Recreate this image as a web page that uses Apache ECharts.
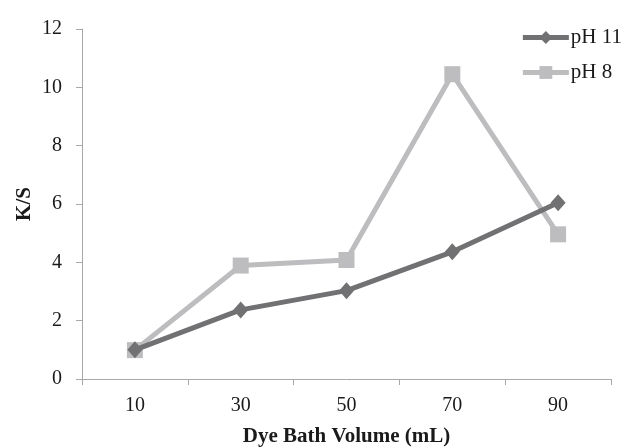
<!DOCTYPE html>
<html><head><meta charset="utf-8">
<script src="https://cdn.jsdelivr.net/npm/echarts@6/dist/echarts.min.js"></script>
<style>html,body{margin:0;padding:0;background:#fff}#c{width:627px;height:448px}</style>
</head><body><div id="c"></div>
<script>
const categories = ['10', '30', '50', '70', '90'];
const ph11 = [1.0, 2.37, 3.03, 4.36, 6.04];
const ph8 = [0.99, 3.89, 4.08, 10.45, 4.96];
const yTicks = {min: 0, max: 12, interval: 2};

const font = 'Liberation Serif';
const chart = echarts.init(document.getElementById('c'));
chart.setOption({
  animation: false,
  backgroundColor: '#fff',
  grid: {left: 82, right: 16, top: 29, bottom: 69, outerBoundsMode: 'none', containLabel: false},
  legend: {
    orient: 'vertical', right: 0, top: 22, itemGap: 14,
    itemWidth: 46, itemHeight: 16,
    lineStyle: {width: 5},
    textStyle: {fontFamily: font, fontSize: 21, color: '#1a1a1a', padding: [0,0,0,-3]},
    data: ['pH 11', 'pH 8']
  },
  xAxis: {
    type: 'category', data: categories, boundaryGap: true,
    name: 'Dye Bath Volume (mL)', nameLocation: 'middle', nameGap: 47,
    nameMoveOverlap: false,
    nameTextStyle: {fontFamily: font, fontSize: 21, fontWeight: 'bold', color: '#1a1a1a'},
    axisLine: {lineStyle: {color: '#a8a8a8', width: 1}},
    axisTick: {show: true, length: 6, lineStyle: {color: '#a8a8a8'}},
    axisLabel: {fontFamily: font, fontSize: 20, color: '#1a1a1a', margin: 17}
  },
  yAxis: {
    type: 'value', min: yTicks.min, max: yTicks.max, interval: yTicks.interval,
    name: 'K/S', nameLocation: 'middle', nameGap: 47, nameRotate: 90,
    nameMoveOverlap: false,
    nameTextStyle: {fontFamily: font, fontSize: 21, fontWeight: 'bold', color: '#1a1a1a'},
    axisLine: {show: true, lineStyle: {color: '#a8a8a8', width: 1}},
    axisTick: {show: true, length: 6, lineStyle: {color: '#a8a8a8'}},
    splitLine: {show: false},
    axisLabel: {fontFamily: font, fontSize: 20, color: '#1a1a1a', margin: 20}
  },
  series: [
    {name: 'pH 8', type: 'line', data: ph8, symbol: 'rect', symbolSize: 16,
     lineStyle: {color: '#bdbdbf', width: 5}, itemStyle: {color: '#bdbdbf'}, z: 2},
    {name: 'pH 11', type: 'line', data: ph11, symbol: 'diamond', symbolSize: [15, 17],
     lineStyle: {color: '#717173', width: 5}, itemStyle: {color: '#717173'}, z: 3}
  ]
});
</script></body></html>
